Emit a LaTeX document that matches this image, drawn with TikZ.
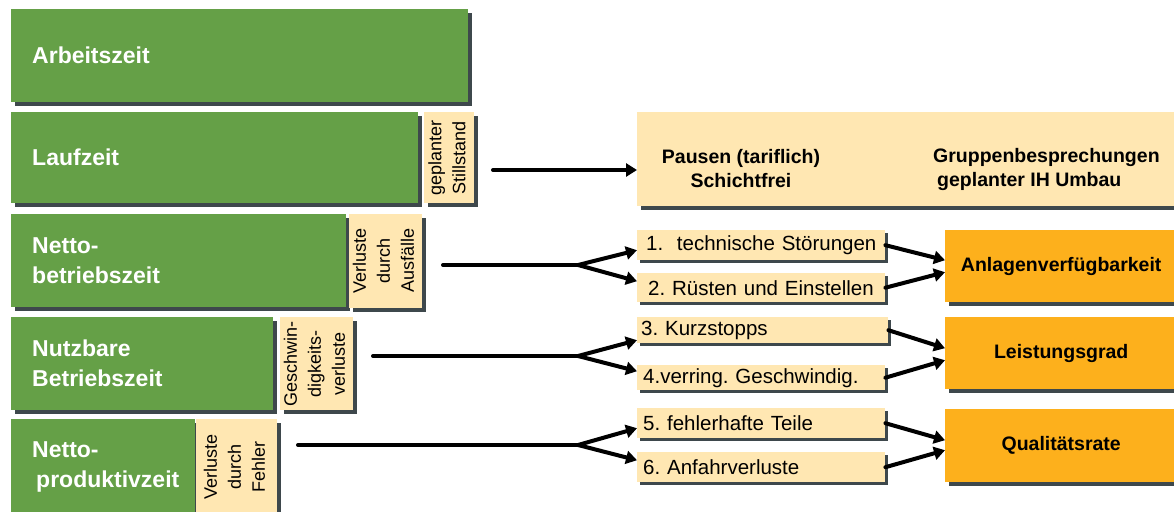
\documentclass[tikz,border=0pt]{standalone}
\usepackage{fontspec}
\setmainfont{Liberation Sans}
\usetikzlibrary{arrows.meta, positioning, shadows}
\definecolor{barGreen}{RGB}{101,160,71}
\definecolor{lossBeige}{RGB}{255,231,178}
\definecolor{kpiOrange}{RGB}{253,176,28}
\definecolor{shadeGray}{RGB}{62,72,76}
\frenchspacing

\begin{document}
\begin{tikzpicture}[
  x=1pt, y=-1pt,
  time bar/.style={fill=barGreen, text=white, font=\bfseries\fontsize{23}{30}\selectfont, align=left, inner xsep=21pt, inner ysep=0pt, anchor=north west, drop shadow={shadow xshift=4pt, shadow yshift=-4pt, fill=shadeGray, opacity=1}},
  loss box/.style={fill=lossBeige, font=\fontsize{18}{24}\selectfont, inner sep=0pt, drop shadow={shadow xshift=4pt, shadow yshift=-4pt, fill=shadeGray, opacity=1}},
  loss item/.style={fill=lossBeige, font=\fontsize{20.5}{24}\selectfont, align=left, text width=236pt, inner xsep=6pt, inner ysep=0pt, anchor=north west, drop shadow={shadow xshift=3pt, shadow yshift=-3pt, fill=shadeGray, opacity=1}},
  kpi box/.style={fill=kpiOrange, font=\bfseries\fontsize{19.5}{24}\selectfont, minimum width=232pt, anchor=north west, drop shadow={shadow xshift=4pt, shadow yshift=-4pt, fill=shadeGray, opacity=1}},
  pause text/.style={font=\bfseries\fontsize{19.5}{24}\selectfont, inner sep=0pt},
  trunk/.style={line width=4pt, line cap=round},
  flow/.style={line width=4pt, line cap=round, -{Triangle[length=11pt, width=13pt]}}
]
  \useasboundingbox (0,0) rectangle (1174,511);

  % Arbeitszeit
  \node[time bar, text width=415pt, minimum height=93pt] (arbeit) at (11,9) {Arbeitszeit};

  % Laufzeit
  \node[time bar, text width=365pt, minimum height=91pt] (lauf) at (11,112) {Laufzeit};
  \node[loss box, right=5pt of lauf, minimum width=50pt, minimum height=91pt] (stillstand)
    {\rotatebox{90}{\begin{tabular}{@{}c@{}}geplanter\\Stillstand\end{tabular}}};

  % Nettobetriebszeit
  \node[time bar, text width=293pt, minimum height=93pt] (netto) at (11,214) {Netto-\\betriebszeit};
  \node[loss box, right=2pt of netto, minimum width=73pt, minimum height=94pt] (ausfall)
    {\rotatebox{90}{\begin{tabular}{@{}c@{}}Verluste\\durch\\Ausfälle\end{tabular}}};

  % Nutzbare Betriebszeit
  \node[time bar, text width=220pt, minimum height=93pt] (nutz) at (11,317) {Nutzbare\\Betriebszeit};
  \node[loss box, right=6pt of nutz, minimum width=73pt, minimum height=93pt] (geschw)
    {\rotatebox{90}{\begin{tabular}{@{}c@{}}Geschwin-\\digkeits-\\verluste\end{tabular}}};

  % Nettoproduktivzeit
  \node[time bar, text width=142pt, minimum height=96pt] (prod) at (11,419) {Netto-\\\hspace{4pt}\makebox[130pt][l]{produktivzeit}};
  \node[loss box, right=0pt of prod, minimum width=81pt, minimum height=96pt] (fehler)
    {\rotatebox{90}{\begin{tabular}{@{}c@{}}Verluste\\durch\\Fehler\end{tabular}}};

  % geplante Stillstaende
  \node[loss box, anchor=north west, minimum width=545pt, minimum height=94pt] (pausen) at (637,112) {};
  \node[pause text, align=center] (pausen links) at (741,169) {Pausen (tariflich)\\Schichtfrei};
  \node[pause text, align=left, anchor=west] (pausen rechts) at (933,169) {Gruppenbesprechungen\\\hspace{4pt}geplanter IH Umbau};

  % Verlustarten
  \node[loss item, minimum height=30pt] (item1) at (637,230) {\hspace{3pt}1.\ \ technische Störungen};
  \node[loss item, minimum height=29pt] (item2) at (637,273) {\hspace{5pt}2. Rüsten und Einstellen};
  \node[loss item, text width=239pt, minimum height=26pt] (item3) at (637,317) {\hspace{-2pt}3. Kurzstopps};
  \node[loss item, minimum height=25pt] (item4) at (637,365) {4.verring. Geschwindig.};
  \node[loss item, minimum height=30pt] (item5) at (637,408) {5. fehlerhafte Teile};
  \node[loss item, minimum height=30pt] (item6) at (637,452) {6. Anfahrverluste};

  % Kennzahlen
  \node[kpi box, minimum height=72pt] (anlagen) at (945,230) {Anlagenverfügbarkeit};
  \node[kpi box, minimum height=72pt] (leistung) at (945,317) {Leistungsgrad};
  \node[kpi box, minimum height=73pt] (quali) at (945,409) {Qualitätsrate};

  % Pfeile
  \coordinate (lauf start) at (493,170);
  \coordinate (netto start) at (443,265);
  \coordinate (netto split) at (578,265);
  \coordinate (nutz start) at (373,356);
  \coordinate (nutz split) at (578,356);
  \coordinate (prod start) at (298,445);
  \coordinate (prod split) at (578,445);

  \draw[flow] (lauf start) -- (lauf start -| pausen.west);

  \draw[trunk] (netto start) -- (netto split);
  \draw[flow] (netto split) -- ([yshift=-5pt]item1.west);
  \draw[flow] (netto split) -- ([yshift=6.5pt]item2.west);
  \draw[flow] (item1.east) -- ([yshift=6pt]anlagen.west);
  \draw[flow] (item2.east) -- ([yshift=-6pt]anlagen.west);

  \draw[trunk] (nutz start) -- (nutz split);
  \draw[flow] (nutz split) -- ([yshift=-10pt]item3.west);
  \draw[flow] (nutz split) -- ([yshift=6.5pt]item4.west);
  \draw[flow] (item3.east) -- ([yshift=5pt]leistung.west);
  \draw[flow] (item4.east) -- ([yshift=-7pt]leistung.west);

  \draw[trunk] (prod start) -- (prod split);
  \draw[flow] (prod split) -- ([yshift=-5pt]item5.west);
  \draw[flow] (prod split) -- ([yshift=7pt]item6.west);
  \draw[flow] (item5.east) -- ([yshift=5.5pt]quali.west);
  \draw[flow] (item6.east) -- ([yshift=-4.5pt]quali.west);
\end{tikzpicture}
\end{document}
